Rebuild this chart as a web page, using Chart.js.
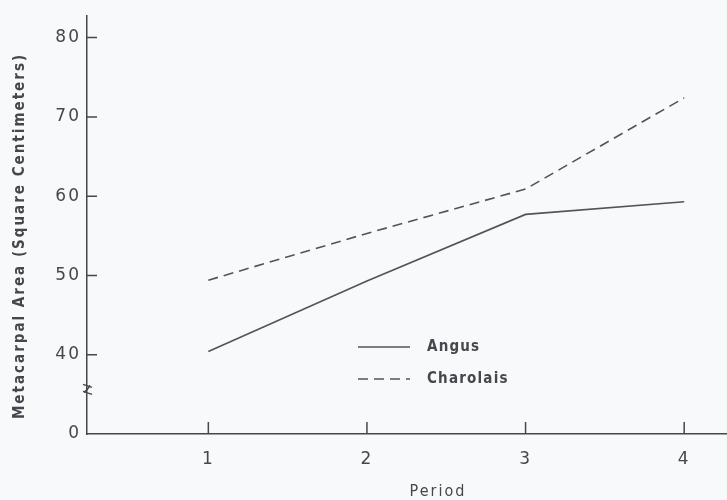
<!DOCTYPE html>
<html>
<head>
<meta charset="utf-8">
<script src="https://cdn.jsdelivr.net/npm/chart.js@4"></script>
<style>
html,body{margin:0;padding:0;background:#f8f9fb;}
#wrap{width:727px;height:500px;position:relative;}
</style>
</head>
<body>
<div id="wrap"><canvas id="c" width="727" height="500"></canvas></div>
<script>
const periods = [1, 2, 3, 4];
const angus = [40.4, 49.3, 57.7, 59.3];
const charolais = [49.4, 55.3, 60.9, 72.4];
const xTicks = [1, 2, 3, 4];
const yTickValues = [30, 40, 50, 60, 70, 80];
const yTickLabels = ['0', '40', '50', '60', '70', '80'];
const seriesNames = ['Angus', 'Charolais'];
const xTitle = 'Period';
const yTitle = 'Metacarpal Area (Square Centimeters)';

const FONT = '"DejaVu Sans Condensed", "DejaVu Sans", sans-serif';
const TICKFONT = '"DejaVu Sans", sans-serif';
const INK = '#46464c';
const LINE = '#535359';

const decor = {
  id: 'decor',
  beforeDraw(chart) {
    chart.ctx.letterSpacing = '2px';
  },
  afterDraw(chart) {
    const ctx = chart.ctx, x = chart.scales.x, y = chart.scales.y;
    const a = chart.chartArea;
    ctx.letterSpacing = '0px';
    ctx.save();
    ctx.strokeStyle = INK;
    ctx.lineWidth = 1.5;
    ctx.beginPath();
    y.ticks.forEach(t => {
      if (t.value === yTickValues[0]) return;
      const py = y.getPixelForValue(t.value);
      ctx.moveTo(a.left, py); ctx.lineTo(a.left + 10, py);
    });
    x.ticks.forEach(t => {
      const px = x.getPixelForValue(t.value);
      ctx.moveTo(px, a.bottom); ctx.lineTo(px, a.bottom - 12);
    });
    ctx.stroke();
    // axis break mark
    const by = y.getPixelForValue(35.5);
    ctx.beginPath();
    ctx.moveTo(a.left - 4, by - 6); ctx.lineTo(a.left + 5, by - 3);
    ctx.moveTo(a.left - 4, by + 1); ctx.lineTo(a.left + 5, by + 4);
    ctx.stroke();
    ctx.beginPath();
    ctx.moveTo(a.left + 3, by - 5); ctx.quadraticCurveTo(a.left + 1, by - 1, a.left - 3, by + 2);
    ctx.stroke();
    // titles
    ctx.fillStyle = INK;
    ctx.textAlign = 'center';
    ctx.textBaseline = 'middle';
    ctx.letterSpacing = '2px';
    ctx.font = 'bold 15px ' + FONT;
    ctx.save();
    ctx.translate(20, 236);
    ctx.rotate(-Math.PI / 2);
    ctx.fillText(yTitle, 0, 0);
    ctx.restore();
    ctx.letterSpacing = '2px';
    ctx.font = '16px ' + FONT;
    ctx.fillText(xTitle, 438, 492);
    // legend
    ctx.letterSpacing = '1.2px';
    ctx.font = 'bold 15px ' + FONT;
    ctx.textAlign = 'left';
    chart.data.datasets.forEach((ds, i) => {
      const ly = 347 + i * 32;
      ctx.strokeStyle = ds.borderColor;
      ctx.lineWidth = 1.5;
      ctx.setLineDash(ds.borderDash || []);
      ctx.beginPath(); ctx.moveTo(358, ly); ctx.lineTo(410, ly); ctx.stroke();
      ctx.setLineDash([]);
      ctx.fillText(ds.label, 427, ly);
    });
    ctx.restore();
    ctx.letterSpacing = '0px';
  }
};

new Chart(document.getElementById('c'), {
  type: 'line',
  data: {
    datasets: [
      { label: seriesNames[0], data: periods.map((p, i) => ({x: p, y: angus[i]})),
        borderColor: LINE, borderWidth: 1.6, pointRadius: 0, fill: false, tension: 0 },
      { label: seriesNames[1], data: periods.map((p, i) => ({x: p, y: charolais[i]})),
        borderColor: LINE, borderWidth: 1.6, borderDash: [10, 6], pointRadius: 0, fill: false, tension: 0 }
    ]
  },
  options: {
    responsive: false,
    animation: false,
    layout: { padding: { top: 8, right: 0, left: 0, bottom: 0 } },
    plugins: { legend: { display: false }, tooltip: { enabled: false } },
    scales: {
      x: {
        type: 'linear', min: 0.235, max: 4.27,
        afterBuildTicks: s => { s.ticks = xTicks.map(v => ({value: v})); },
        afterFit: s => { s.height = 66; },
        grid: { display: false, drawTicks: false },
        border: { display: true, color: INK, width: 1.5 },
        ticks: { color: INK, font: { family: TICKFONT, size: 17 }, padding: 15, maxRotation: 0,
                 callback: v => String(v) }
      },
      y: {
        type: 'linear', min: 30, max: 82.7,
        afterBuildTicks: s => { s.ticks = yTickValues.map(v => ({value: v})); },
        afterFit: s => { s.width = 87; },
        grid: { display: false, drawTicks: false },
        border: { display: true, color: INK, width: 1.5 },
        ticks: { color: INK, font: { family: TICKFONT, size: 17 }, padding: 6,
                 callback: v => yTickLabels[yTickValues.indexOf(v)] }
      }
    }
  },
  plugins: [decor]
});
</script>
</body>
</html>
